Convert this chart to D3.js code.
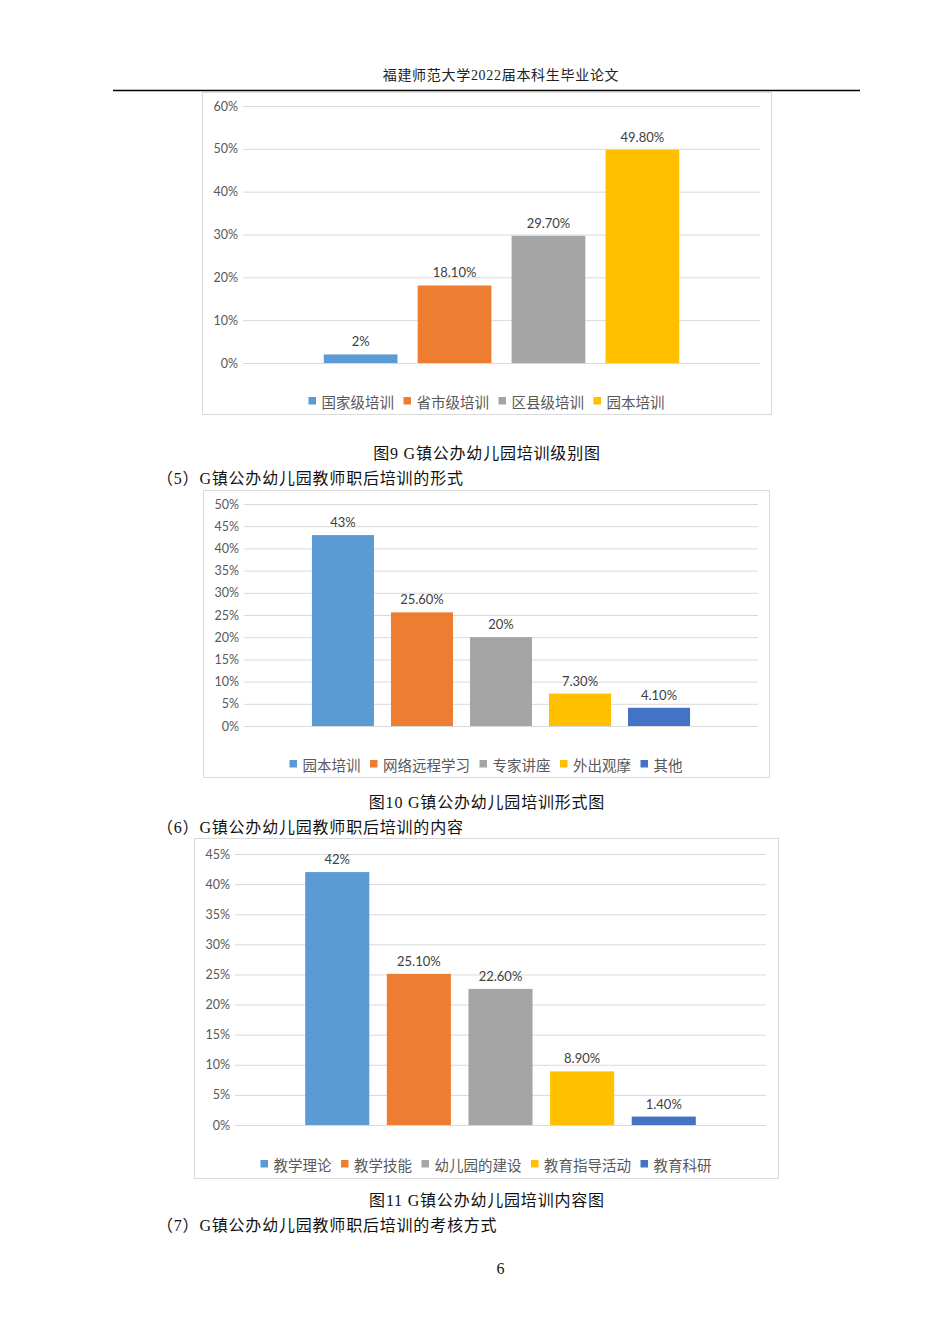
<!DOCTYPE html>
<html>
<head>
<meta charset="utf-8">
<script src="https://cdn.jsdelivr.net/npm/d3@7"></script>
<style>
  body { margin: 0; background: #fff; }
</style>
</head>
<body>
<div id="page"></div>
<script>
// chart values
var seriesColors = ["#5B9BD5", "#ED7D31", "#A5A5A5", "#FFC000", "#4472C4"];

var levelNames = ["国家级培训", "省市级培训", "区县级培训", "园本培训"];
var levelValues = [2, 18.1, 29.7, 49.8];
var levelLabels = ["2%", "18.10%", "29.70%", "49.80%"];
var levelTicks = [0, 10, 20, 30, 40, 50, 60];

var formNames = ["园本培训", "网络远程学习", "专家讲座", "外出观摩", "其他"];
var formValues = [43, 25.6, 20, 7.3, 4.1];
var formLabels = ["43%", "25.60%", "20%", "7.30%", "4.10%"];
var formTicks = [0, 5, 10, 15, 20, 25, 30, 35, 40, 45, 50];

var contentNames = ["教学理论", "教学技能", "幼儿园的建设", "教育指导活动", "教育科研"];
var contentValues = [42, 25.1, 22.6, 8.9, 1.4];
var contentLabels = ["42%", "25.10%", "22.60%", "8.90%", "1.40%"];
var contentTicks = [0, 5, 10, 15, 20, 25, 30, 35, 40, 45];

var serif = '"Liberation Serif", "DejaVu Serif", "Noto Sans CJK SC", serif';
var chartFont = 'Lato, "Noto Sans CJK SC", sans-serif';

var W = 950, H = 1344;
var svg = d3.select("#page").append("svg")
    .attr("width", W).attr("height", H)
    .attr("viewBox", "0 0 " + W + " " + H);

// page header
svg.append("text")
    .attr("x", 501).attr("y", 75)
    .attr("text-anchor", "middle").attr("dominant-baseline", "central")
    .style("font-family", serif).style("font-size", "14px")
    .style("letter-spacing", "0.7px")
    .attr("fill", "#222")
    .text("福建师范大学2022届本科生毕业论文");
svg.append("line")
    .attr("x1", 113).attr("x2", 860).attr("y1", 90.5).attr("y2", 90.5)
    .attr("stroke", "#000").attr("stroke-width", 1.6);

function bodyText(x, y, txt, anchor) {
    svg.append("text")
        .attr("x", x).attr("y", y)
        .attr("text-anchor", anchor || "start").attr("dominant-baseline", "central")
        .style("font-family", serif).style("font-size", "16px")
        .style("letter-spacing", "0.8px")
        .attr("fill", "#111")
        .text(txt);
}

function drawChart(box, plot, names, values, labels, ticks, legendY) {
    var g = svg.append("g");

    g.append("rect")
        .attr("x", box.x + 0.5).attr("y", box.y + 0.5)
        .attr("width", box.w).attr("height", box.h)
        .attr("fill", "#fff").attr("stroke", "#D9D9D9").attr("stroke-width", 1);

    var y = d3.scaleLinear()
        .domain([0, d3.max(ticks)])
        .range([plot.bottom, plot.top]);

    var x = d3.scaleBand()
        .domain(names)
        .range([plot.left, plot.right])
        .paddingInner(0.215)
        .paddingOuter(0.86);

    // gridlines + tick labels via axis
    var axis = d3.axisLeft(y)
        .tickValues(ticks)
        .tickSize(-(plot.right - plot.left))
        .tickPadding(5)
        .tickFormat(function (d) { return d + "%"; });

    var ax = g.append("g")
        .attr("transform", "translate(" + plot.left + ",0)")
        .call(axis);
    ax.select(".domain").remove();
    ax.selectAll(".tick line").attr("stroke", "#D9D9D9").attr("stroke-width", 1);
    ax.selectAll(".tick text")
        .attr("fill", "#595959")
        .style("font-family", chartFont).style("font-size", "12.5px");

    g.selectAll("rect.bar")
        .data(values)
        .enter().append("rect")
        .attr("class", "bar")
        .attr("x", function (d, i) { return x(names[i]); })
        .attr("width", x.bandwidth())
        .attr("y", function (d) { return y(d); })
        .attr("height", function (d) { return y(0) - y(d); })
        .attr("fill", function (d, i) { return seriesColors[i]; });

    g.selectAll("text.lbl")
        .data(values)
        .enter().append("text")
        .attr("class", "lbl")
        .attr("x", function (d, i) { return x(names[i]) + x.bandwidth() / 2; })
        .attr("y", function (d) { return y(d) - 8; })
        .attr("text-anchor", "middle")
        .attr("fill", "#404040")
        .style("font-family", chartFont).style("font-size", "13px")
        .text(function (d, i) { return labels[i]; });

    // legend, centred in the frame
    var leg = g.append("g");
    var cx = 0;
    names.forEach(function (n, i) {
        var item = leg.append("g").attr("transform", "translate(" + cx + ",0)");
        item.append("rect")
            .attr("x", 0).attr("y", -4)
            .attr("width", 7.5).attr("height", 7.5)
            .attr("fill", seriesColors[i]);
        var t = item.append("text")
            .attr("x", 13).attr("y", 0)
            .attr("dominant-baseline", "central")
            .attr("fill", "#595959")
            .style("font-family", '"Noto Sans CJK SC", sans-serif')
            .style("font-size", "14.5px")
            .text(n);
        cx += 13 + t.node().getComputedTextLength() + 9.5;
    });
    var legW = cx - 9.5;
    leg.attr("transform", "translate(" + (box.x + box.w / 2 - legW / 2) + "," + legendY + ")");
}

drawChart({x: 202, y: 92, w: 569, h: 322},
    {left: 243, right: 760, top: 106, bottom: 363},
    levelNames, levelValues, levelLabels, levelTicks, 401);
bodyText(487, 453, "图9 G镇公办幼儿园培训级别图", "middle");
bodyText(157, 478, "（5）G镇公办幼儿园教师职后培训的形式");

drawChart({x: 203, y: 490, w: 566, h: 287},
    {left: 244, right: 758, top: 504, bottom: 726},
    formNames, formValues, formLabels, formTicks, 764);
bodyText(487, 802, "图10 G镇公办幼儿园培训形式图", "middle");
bodyText(157, 827, "（6）G镇公办幼儿园教师职后培训的内容");

drawChart({x: 194, y: 838, w: 584, h: 340},
    {left: 235, right: 766, top: 854, bottom: 1125},
    contentNames, contentValues, contentLabels, contentTicks, 1164);
bodyText(487, 1200, "图11 G镇公办幼儿园培训内容图", "middle");
bodyText(157, 1225, "（7）G镇公办幼儿园教师职后培训的考核方式");

bodyText(501, 1268, "6", "middle");
</script>
</body>
</html>
